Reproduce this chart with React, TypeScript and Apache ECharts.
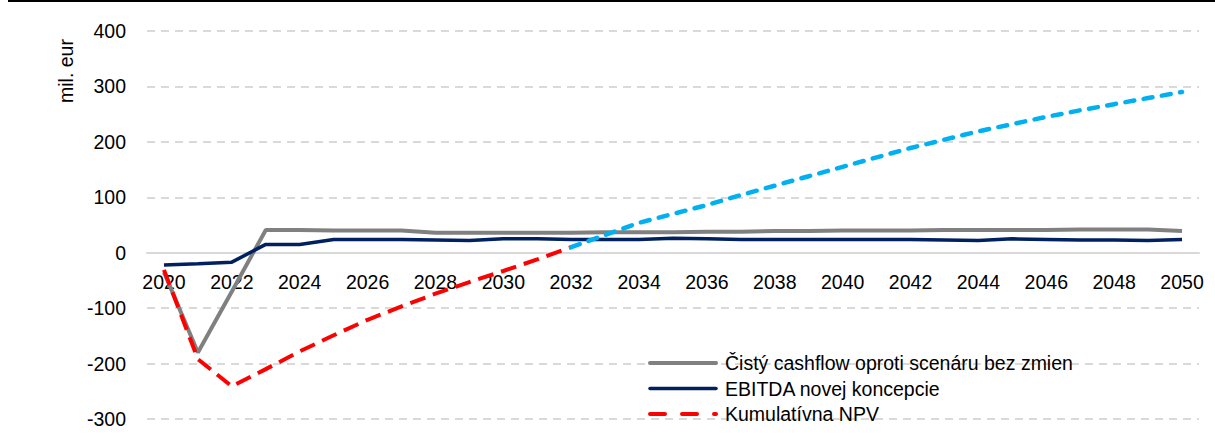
import React, { useEffect, useRef } from "react";
import * as echarts from "echarts";

const years = [
  "2020", "2021", "2022", "2023", "2024", "2025", "2026", "2027", "2028", "2029",
  "2030", "2031", "2032", "2033", "2034", "2035", "2036", "2037", "2038", "2039",
  "2040", "2041", "2042", "2043", "2044", "2045", "2046", "2047", "2048", "2049", "2050",
];

const cashflow = [
  -35, -180, -70, 41, 41, 40, 40, 40, 36, 36,
  36, 36, 36, 37, 37, 37, 38, 38, 39, 39,
  40, 40, 40, 41, 41, 41, 41, 42, 42, 42, 39,
];

const ebitda = [
  -22, -20, -17, 15, 15, 24, 24, 24, 23, 22,
  25, 25, 24, 24, 24, 26, 25, 24, 24, 24,
  24, 24, 24, 23, 22, 25, 24, 23, 23, 22, 24,
];

const npv = [
  -31, -192, -241, -210, -178, -149, -121, -97, -74, -53,
  -33, -12, 10, 32, 54, 70, 86, 104, 121, 138,
  155, 172, 189, 204, 219, 232, 245, 257, 268, 279, 290,
];

// year from which the cumulative NPV is drawn in light blue
const npvSplitYear = "2032";

const yTicks = { min: -300, max: 400, step: 100 };

const names = {
  cashflow: "Čistý cashflow oproti scenáru bez zmien",
  ebitda: "EBITDA novej koncepcie",
  npv: "Kumulatívna NPV",
  npvPositive: "Kumulatívna NPV (kladná)",
};

const colors = {
  cashflow: "#808080",
  ebitda: "#002060",
  npv: "#ff0000",
  npvPositive: "#00b0f0",
};

export default function App() {
  const ref = useRef<HTMLDivElement>(null);

  useEffect(() => {
    document.body.style.margin = "0";
    const chart = echarts.init(ref.current!, null, { renderer: "svg" });
    const font = "'Liberation Sans', Arial, sans-serif";
    const fs = 19.5;
    const split = years.indexOf(npvSplitYear);
    const npvRed = npv.map((v, i) => (i <= split ? v : null));
    const npvBlue = npv.map((v, i) => (i >= split ? v : null));

    const gridTop = 31;
    const gridBottomPx = 419;
    const zeroY =
      gridTop + ((yTicks.max - 0) / (yTicks.max - yTicks.min)) * (gridBottomPx - gridTop);

    const legendItems = [
      { name: names.cashflow, color: colors.cashflow, width: 4, dash: null as number[] | null },
      { name: names.ebitda, color: colors.ebitda, width: 3.5, dash: null as number[] | null },
      { name: names.npv, color: colors.npv, width: 4, dash: [15, 17] },
    ];
    const legendX = 650;
    const legendY0 = 363;
    const legendStep = 25.5;
    const legendGraphics: any[] = [];
    legendItems.forEach((it, i) => {
      const y = legendY0 + i * legendStep;
      legendGraphics.push({
        type: "line",
        shape: { x1: legendX, y1: y, x2: legendX + 66, y2: y },
        style: {
          stroke: it.color,
          lineWidth: it.width,
          lineDash: it.dash || undefined,
          lineCap: "round",
        },
        z: 10,
      });
      legendGraphics.push({
        type: "text",
        x: legendX + 75,
        y: y,
        style: {
          text: it.name,
          fontFamily: font,
          fontSize: fs,
          fill: "#000",
          align: "left",
          verticalAlign: "middle",
        },
        z: 10,
      });
    });

    chart.setOption({
      animation: false,
      grid: { left: 147, right: 16, top: gridTop, bottom: 445 - gridBottomPx },
      xAxis: {
        type: "category",
        data: years,
        boundaryGap: true,
        offset: -(gridBottomPx - zeroY),
        axisLine: { onZero: false, lineStyle: { color: "#d9d9d9", width: 2 } },
        axisTick: { show: false },
        axisLabel: {
          interval: 1,
          color: "#000",
          fontFamily: font,
          fontSize: fs,
          margin: 19,
        },
        splitLine: { show: false },
      },
      yAxis: {
        type: "value",
        min: yTicks.min,
        max: yTicks.max,
        interval: yTicks.step,
        axisLine: { show: false },
        axisTick: { show: false },
        axisLabel: { color: "#000", fontFamily: font, fontSize: fs, margin: 21 },
        splitLine: { lineStyle: { color: "#d9d9d9", width: 2, type: [8, 6] } },
      },
      graphic: [
        {
          type: "rect",
          shape: { x: 8, y: 0, width: 1207, height: 2 },
          style: { fill: "#000" },
        },
        {
          type: "text",
          x: 66,
          y: 71,
          rotation: Math.PI / 2,
          style: {
            text: "mil. eur",
            fontFamily: font,
            fontSize: fs,
            fill: "#000",
            align: "center",
            verticalAlign: "middle",
          },
        },
        ...legendGraphics,
      ],
      series: [
        {
          name: names.cashflow,
          type: "line",
          data: cashflow,
          symbol: "none",
          showSymbol: false,
          lineStyle: { color: colors.cashflow, width: 4 },
          itemStyle: { color: colors.cashflow },
        },
        {
          name: names.ebitda,
          type: "line",
          data: ebitda,
          symbol: "none",
          showSymbol: false,
          lineStyle: { color: colors.ebitda, width: 3.5 },
          itemStyle: { color: colors.ebitda },
        },
        {
          name: names.npv,
          type: "line",
          data: npvRed,
          symbol: "none",
          showSymbol: false,
          connectNulls: false,
          lineStyle: { color: colors.npv, width: 4, type: [16, 8] },
          itemStyle: { color: colors.npv },
        },
        {
          name: names.npvPositive,
          type: "line",
          data: npvBlue,
          symbol: "none",
          showSymbol: false,
          connectNulls: false,
          lineStyle: { color: colors.npvPositive, width: 4.5, type: [9, 9.5], cap: "round" },
          itemStyle: { color: colors.npvPositive },
        },
      ],
    });
    return () => chart.dispose();
  }, []);

  return <div ref={ref} style={{ width: 1215, height: 445 }} />;
}
